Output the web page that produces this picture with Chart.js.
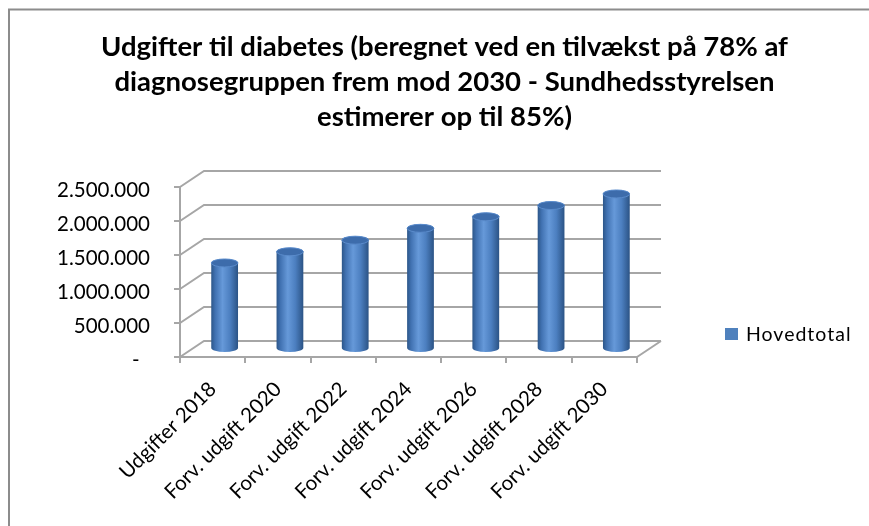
<!DOCTYPE html>
<html>
<head>
<meta charset="utf-8">
<script src="https://cdn.jsdelivr.net/npm/chart.js@4.4.1/dist/chart.umd.min.js"></script>
<style>
  html, body { margin: 0; padding: 0; background: #fff; }
  #wrap { position: relative; width: 869px; height: 526px; }
  #legend { position: absolute; left: 725px; top: 322px; font: 19.5px Lato, sans-serif; color: #000;
            display: flex; align-items: center; letter-spacing: 1px; }
  #legend span.box { display: inline-block; width: 13px; height: 12px; background: #4f81bd; margin-right: 8px; }
</style>
</head>
<body>
<div id="wrap">
  <canvas id="chart" width="869" height="526"></canvas>
  <div id="legend"><span class="box"></span><span>Hovedtotal</span></div>
</div>
<script>
// data
const categories = ['Udgifter 2018', 'Forv. udgift 2020', 'Forv. udgift 2022', 'Forv. udgift 2024',
                    'Forv. udgift 2026', 'Forv. udgift 2028', 'Forv. udgift 2030'];
const hovedtotal = [1265000, 1430000, 1600000, 1775000, 1945000, 2110000, 2280000];
const yTicks = [0, 500000, 1000000, 1500000, 2000000, 2500000];
const titleLines = ['Udgifter til diabetes (beregnet ved en tilvækst på 78% af',
                    'diagnosegruppen frem mod 2030 - Sundhedsstyrelsen',
                    'estimerer op til 85%)'];

// depth of the 3d box
const DX = 24, DY = 16;
const GRID = '#a6a6a6';

function fmt(v) {
  if (v === 0) return '-  ';
  return String(v).replace(/\B(?=(\d{3})+(?!\d))/g, '.');
}

// back wall + side wall + floor, and the cylinders
const walls = {
  id: 'walls',
  beforeDraw(chart) {
    const ctx = chart.ctx;
    ctx.save();
    ctx.strokeStyle = '#8c8c8c';
    ctx.lineWidth = 2;
    ctx.beginPath();
    ctx.moveTo(9, 526);
    ctx.lineTo(9, 9.5);
    ctx.lineTo(869, 9.5);
    ctx.stroke();
    ctx.restore();
  },
  beforeDatasetsDraw(chart) {
    const { ctx, chartArea: a, scales: { y } } = chart;
    ctx.save();
    ctx.strokeStyle = GRID;
    ctx.lineWidth = 2;
    ctx.beginPath();
    yTicks.forEach(v => {
      const py = y.getPixelForValue(v);
      ctx.moveTo(a.left, py);
      ctx.lineTo(a.left + DX, py - DY);
      ctx.lineTo(a.right + DX, py - DY);
    });
    ctx.moveTo(a.right, a.bottom);
    ctx.lineTo(a.right + DX, a.bottom - DY);
    ctx.stroke();
    ctx.restore();
  },
  afterDatasetsDraw(chart) {
    const ctx = chart.ctx;
    const meta = chart.getDatasetMeta(0);
    meta.data.forEach(bar => {
      const cx = bar.x + DX / 2;
      const rx = bar.width / 2;
      const ry = 4;
      const top = bar.y - DY / 2;
      const bottom = bar.base - DY / 2;
      ctx.save();
      const g = ctx.createLinearGradient(cx - rx, 0, cx + rx, 0);
      g.addColorStop(0, '#2c5689');
      g.addColorStop(0.15, '#4172b2');
      g.addColorStop(0.42, '#6699d9');
      g.addColorStop(0.7, '#4c7fc0');
      g.addColorStop(1, '#2b5385');
      ctx.beginPath();
      ctx.moveTo(cx - rx, top);
      ctx.lineTo(cx - rx, bottom);
      ctx.ellipse(cx, bottom, rx, ry, 0, Math.PI, 0, true);
      ctx.lineTo(cx + rx, top);
      ctx.ellipse(cx, top, rx, ry, 0, 0, Math.PI, true);
      ctx.closePath();
      ctx.fillStyle = g;
      ctx.fill();
      // top cap
      ctx.beginPath();
      ctx.ellipse(cx, top, rx, ry, 0, 0, Math.PI * 2);
      ctx.fillStyle = '#3d6cab';
      ctx.fill();
      ctx.strokeStyle = '#5a8bcb';
      ctx.lineWidth = 1;
      ctx.stroke();
      ctx.restore();
    });
  }
};

new Chart(document.getElementById('chart'), {
  type: 'bar',
  data: {
    labels: categories,
    datasets: [{
      label: 'Hovedtotal',
      data: hovedtotal,
      backgroundColor: 'rgba(0,0,0,0)',
      borderWidth: 0,
      categoryPercentage: 1,
      barPercentage: 0.41
    }]
  },
  options: {
    responsive: false,
    animation: false,
    layout: { padding: { left: 20, right: 0, top: 0, bottom: 0 } },
    plugins: {
      legend: { display: false },
      tooltip: { enabled: false },
      title: {
        display: true,
        text: titleLines,
        color: '#000',
        font: { family: 'Lato', size: 27.5, weight: 'bold', lineHeight: 35 / 27.5 },
        padding: { top: 30, bottom: 52 }
      }
    },
    scales: {
      x: {
        afterFit: s => { s.height = 169; },
        grid: { offset: true, drawOnChartArea: false, tickLength: 6, tickColor: GRID, lineWidth: 2 },
        border: { display: true, color: GRID, width: 2 },
        ticks: {
          color: '#000',
          font: { family: 'Lato', size: 20.5 },
          minRotation: 45, maxRotation: 45,
          autoSkip: false,
          padding: 14,
          labelOffset: 0
        }
      },
      y: {
        min: 0, max: 2500000,
        afterFit: s => { s.width = 160; },
        afterBuildTicks: s => { s.ticks = yTicks.map(v => ({ value: v })); },
        grid: { drawOnChartArea: false, tickLength: 6, tickColor: GRID, lineWidth: 2 },
        border: { display: true, color: GRID, width: 2 },
        ticks: {
          color: '#000',
          font: { family: 'Lato', size: 20.5 },
          padding: 24,
          labelOffset: 3,
          callback: v => fmt(v)
        }
      },
      // empty right box that keeps the room for the legend
      side: {
        position: 'right',
        display: true,
        afterFit: s => { s.width = 232; },
        grid: { display: false },
        border: { display: false },
        ticks: { display: false }
      }
    }
  },
  plugins: [walls]
});
</script>
</body>
</html>
